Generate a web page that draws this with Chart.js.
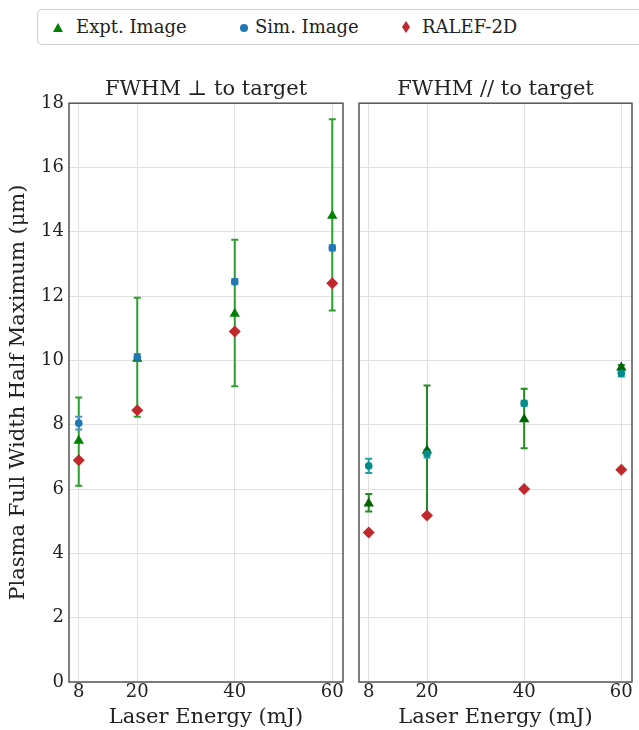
<!DOCTYPE html>
<html>
<head>
<meta charset="utf-8">
<script src="https://cdn.jsdelivr.net/npm/chart.js@4.4.1/dist/chart.umd.min.js"></script>
<style>
  html, body { margin: 0; padding: 0; background: #fff; overflow: hidden; }
  body { width: 639px; height: 730px; position: relative; font-family: "DejaVu Serif", serif; }
  #legend {
    position: absolute; left: 37px; top: 9px; width: 640px; height: 36px;
    border: 1px solid #d0d0d0; border-radius: 5px; box-sizing: border-box;
  }
  .item { position: absolute; top: 6px; font-size: 18px; color: #222; white-space: nowrap; }
  .item svg { position: absolute; top: 6px; }
  .item span { position: absolute; top: 0; }
  #leftWrap { position: absolute; left: 0; top: 0; width: 352px; height: 730px; }
  #rightWrap { position: absolute; left: 350px; top: 0; width: 289px; height: 730px; }
</style>
</head>
<body>
<div id="legend">
  <div class="item" style="left:14px">
    <svg width="12" height="12" viewBox="0 0 12 12"><polygon points="6,1 11,10 1,10" fill="#008000"/></svg>
    <span style="left:24px">Expt. Image</span>
  </div>
  <div class="item" style="left:200px">
    <svg width="12" height="12" viewBox="0 0 12 12"><circle cx="6" cy="6" r="4" fill="#1f77b4"/></svg>
    <span style="left:17px">Sim. Image</span>
  </div>
  <div class="item" style="left:362px">
    <svg width="12" height="14" viewBox="0 0 12 14" style="top:4px"><polygon points="6,1 10,7 6,13 2,7" fill="#c0282b"/></svg>
    <span style="left:22px">RALEF-2D</span>
  </div>
</div>
<div id="leftWrap"><canvas id="leftChart"></canvas></div>
<div id="rightWrap"><canvas id="rightChart"></canvas></div>
<script>
const energies = [8, 20, 40, 60];
const xTicks = [8, 20, 40, 60];
const yTicks = [0, 2, 4, 6, 8, 10, 12, 14, 16, 18];

// FWHM perpendicular to target (left panel)
const exptPerp = [7.5, 10.05, 11.45, 14.5];
const exptPerpLow = [6.1, 8.25, 9.2, 11.55];
const exptPerpHigh = [8.85, 11.95, 13.75, 17.5];
const simPerp = [8.05, 10.1, 12.45, 13.5];
const simPerpLow = [7.85, 10.0, 12.37, 13.42];
const simPerpHigh = [8.25, 10.2, 12.53, 13.58];
const ralefPerp = [6.9, 8.45, 10.9, 12.4];

// FWHM parallel to target (right panel)
const exptPara = [5.55, 7.2, 8.17, 9.78];
const exptParaLow = [5.3, 5.2, 7.27, 9.7];
const exptParaHigh = [5.85, 9.22, 9.12, 9.86];
const simPara = [6.72, 7.1, 8.67, 9.6];
const simParaLow = [6.5, 6.98, 8.59, 9.5];
const simParaHigh = [6.94, 7.22, 8.75, 9.7];
const ralefPara = [4.65, 5.18, 6.0, 6.6];

const fontFamily = "DejaVu Serif";
const textColor = "#222";
const gridColor = "#e0e0e0";

function points(values) {
  return values.map((v, i) => ({ x: energies[i], y: v }));
}

const errorBars = {
  id: "errorBars",
  beforeDatasetsDraw(chart) {
    const ctx = chart.ctx;
    const yScale = chart.scales.y;
    chart.data.datasets.forEach((ds, di) => {
      if (!ds.errLow) return;
      const meta = chart.getDatasetMeta(di);
      ctx.save();
      ctx.strokeStyle = ds.errColor;
      ctx.lineWidth = 2;
      meta.data.forEach((el, i) => {
        const x = el.x;
        const y1 = yScale.getPixelForValue(ds.errLow[i]);
        const y2 = yScale.getPixelForValue(ds.errHigh[i]);
        ctx.beginPath();
        ctx.moveTo(x, y1); ctx.lineTo(x, y2);
        ctx.moveTo(x - 3.5, y1); ctx.lineTo(x + 3.5, y1);
        ctx.moveTo(x - 3.5, y2); ctx.lineTo(x + 3.5, y2);
        ctx.stroke();
      });
      ctx.restore();
    });
  }
};

const frame = {
  id: "frame",
  afterDraw(chart) {
    const a = chart.chartArea;
    const ctx = chart.ctx;
    ctx.save();
    ctx.strokeStyle = "#555";
    ctx.lineWidth = 1.5;
    ctx.strokeRect(a.left, a.top, a.right - a.left, a.bottom - a.top);
    ctx.restore();
  }
};

function makeChart(canvasId, title, sets, colors, showY, yWidth, padRight) {
  return new Chart(document.getElementById(canvasId), {
    type: "scatter",
    data: {
      datasets: [
        {
          label: "Expt. Image", data: points(sets.expt), errLow: sets.exptLow, errHigh: sets.exptHigh,
          errColor: colors.exptErr, pointStyle: "triangle", pointRadius: 6,
          backgroundColor: colors.expt, borderColor: colors.expt, borderWidth: 0, order: 3
        },
        {
          label: "Sim. Image", data: points(sets.sim), errLow: sets.simLow, errHigh: sets.simHigh,
          errColor: colors.simErr, pointStyle: "circle", pointRadius: 3.8,
          backgroundColor: colors.sim, borderColor: colors.sim, borderWidth: 0, order: 2
        },
        {
          label: "RALEF-2D", data: points(sets.ralef), pointStyle: "rectRot", pointRadius: 6,
          backgroundColor: "#c0282b", borderColor: "#c0282b", borderWidth: 0, order: 1
        }
      ]
    },
    options: {
      responsive: true,
      maintainAspectRatio: false,
      animation: false,
      layout: { padding: { top: 77, right: padRight, bottom: 0, left: 0 } },
      plugins: {
        legend: { display: false },
        tooltip: { enabled: false },
        title: {
          display: true, text: title, color: textColor, fullSize: false,
          font: { family: fontFamily, size: 21, weight: "normal" },
          padding: { top: 0, bottom: 1 }
        }
      },
      scales: {
        x: {
          type: "linear", min: 6, max: 62.2,
          afterBuildTicks: (scale) => { scale.ticks = xTicks.map((v) => ({ value: v })); },
          afterFit: (scale) => { scale.height = 48; },
          grid: { color: gridColor, drawTicks: false, lineWidth: 1 },
          border: { display: false },
          ticks: { color: textColor, font: { family: fontFamily, size: 18 }, padding: 0, maxRotation: 0 },
          title: {
            display: true, text: "Laser Energy (mJ)", color: textColor,
            font: { family: fontFamily, size: 21 }, padding: { top: 0, bottom: 0 }
          }
        },
        y: {
          min: 0, max: 18,
          afterBuildTicks: (scale) => { scale.ticks = yTicks.map((v) => ({ value: v })); },
          afterFit: (scale) => { scale.width = yWidth; },
          grid: { color: gridColor, drawTicks: false, lineWidth: 1 },
          border: { display: false },
          ticks: { display: showY, color: textColor, font: { family: fontFamily, size: 18 }, padding: 5 },
          title: {
            display: showY, text: "Plasma Full Width Half Maximum (μm)", color: textColor,
            font: { family: fontFamily, size: 21 }, padding: { top: 6, bottom: 0 }
          }
        }
      }
    },
    plugins: [errorBars, frame]
  });
}

makeChart("leftChart", "FWHM ⊥ to target",
  { expt: exptPerp, exptLow: exptPerpLow, exptHigh: exptPerpHigh,
    sim: simPerp, simLow: simPerpLow, simHigh: simPerpHigh, ralef: ralefPerp },
  { expt: "#008000", exptErr: "#2ca02c", sim: "#1f77b4", simErr: "#4d94cc" },
  true, 69, 9);

makeChart("rightChart", "FWHM // to target",
  { expt: exptPara, exptLow: exptParaLow, exptHigh: exptParaHigh,
    sim: simPara, simLow: simParaLow, simHigh: simParaHigh, ralef: ralefPara },
  { expt: "#006400", exptErr: "#228b22", sim: "#008b8b", simErr: "#20a0a0" },
  false, 9, 7);
</script>
</body>
</html>
